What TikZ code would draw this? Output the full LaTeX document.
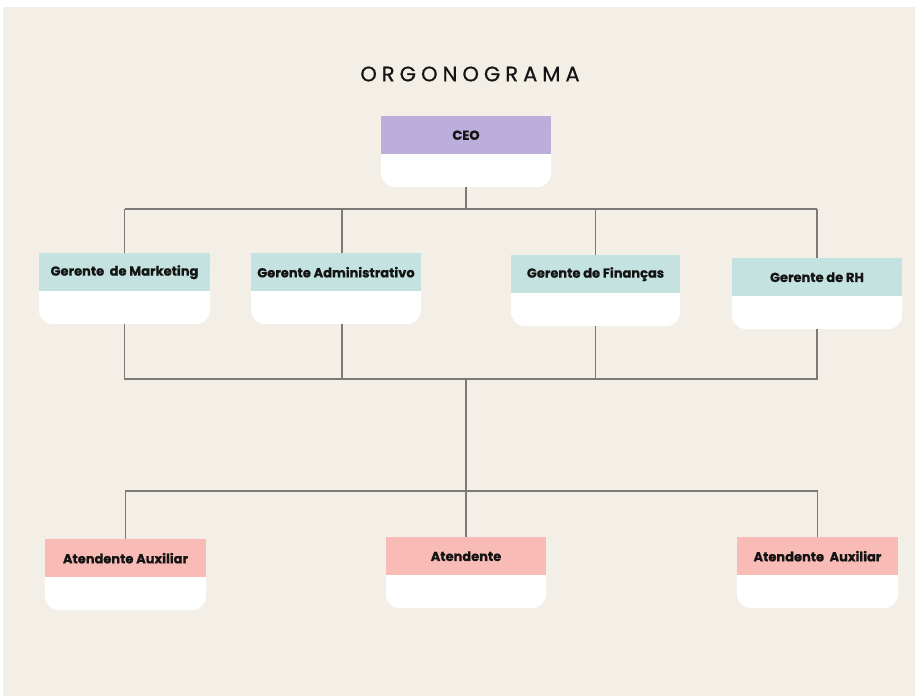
\documentclass[tikz,border=0pt]{standalone}
\usepackage{fontspec}
\setmainfont{Poppins}
\usetikzlibrary{positioning,calc}
\definecolor{paper}{HTML}{F3EFE6}
\definecolor{ceocol}{HTML}{BBAEDA}
\definecolor{mgrcol}{HTML}{C3E2E0}
\definecolor{attcol}{HTML}{F8BBB6}
\definecolor{wirecol}{HTML}{7C7976}
\definecolor{ink}{HTML}{141414}
\tikzset{
    card/.style={fill=white, rounded corners=14pt, minimum height=71pt, inner sep=0pt, anchor=north},
    cardhead/.style={fill=#1, minimum height=38pt, inner sep=0pt, anchor=north, text=ink,
                     font=\bfseries\addfontfeatures{FakeBold=0.8}\fontsize{13}{15}\selectfont},
    wire/.style={draw=wirecol, line width=1.3pt}
}

\begin{document}
\begin{tikzpicture}[x=1pt, y=-1pt]

    % Page
    \useasboundingbox (0,0) rectangle (915,696);
    \fill[white] (0,0) rectangle (915,696);
    \fill[paper] (3,7) rectangle (915,696);

    % Title
    \node[text=ink, font=\addfontfeatures{LetterSpace=24,FakeBold=0.6}\fontsize{21}{24}\selectfont] (title) at (470,74) {ORGONOGRAMA};

    % Nodes
    \node[card, minimum width=170pt] (ceo) at (466,116) {};
    \node[cardhead=ceocol, minimum width=170pt] (ceo-h) at (ceo.north) {CEO};

    \node[card, minimum width=171pt] (mkt) at (124.5,253) {};
    \node[cardhead=mgrcol, minimum width=171pt] (mkt-h) at (mkt.north) {Gerente~ de Marketing};
    \node[card, minimum width=170pt] (adm) at (336,253) {};
    \node[cardhead=mgrcol, minimum width=170pt] (adm-h) at (adm.north) {Gerente Administrativo};
    \node[card, minimum width=169pt] (fin) at (595.5,255) {};
    \node[cardhead=mgrcol, minimum width=169pt] (fin-h) at (fin.north) {Gerente de Finanças};
    \node[card, minimum width=170pt] (rh) at (817,258) {};
    \node[cardhead=mgrcol, minimum width=170pt] (rh-h) at (rh.north) {Gerente de RH};

    \node[card, minimum width=161pt] (aux1) at (125.5,539) {};
    \node[cardhead=attcol, minimum width=161pt] (aux1-h) at (aux1.north) {Atendente Auxiliar};
    \node[card, minimum width=160pt] (att) at (466,537) {};
    \node[cardhead=attcol, minimum width=160pt] (att-h) at (att.north) {Atendente};
    \node[card, minimum width=161pt] (aux2) at (817.5,537) {};
    \node[cardhead=attcol, minimum width=161pt] (aux2-h) at (aux2.north) {Atendente~ Auxiliar};

    % Buses
    \coordinate (topbus) at (466,209);
    \coordinate (midbus) at (466,379);
    \coordinate (lowbus) at (466,491);

    % Edges
    \draw[wire] (ceo.south) -- (topbus);
    \draw[wire] (mkt.north |- topbus) -- (rh.north |- topbus);
    \draw[wire] (mkt.north) -- (mkt.north |- topbus);
    \draw[wire] ([xshift=6pt]adm.north) -- ([xshift=6pt]adm.north |- topbus);
    \draw[wire] (fin.north) -- (fin.north |- topbus);
    \draw[wire] (rh.north) -- (rh.north |- topbus);

    \draw[wire] (mkt.south) -- (mkt.south |- midbus) -- (rh.south |- midbus) -- (rh.south);
    \draw[wire] ([xshift=6pt]adm.south) -- ([xshift=6pt]adm.south |- midbus);
    \draw[wire] (fin.south) -- (fin.south |- midbus);
    \draw[wire] (midbus) -- (lowbus);

    \draw[wire] (aux1.north) -- (aux1.north |- lowbus) -- (aux2.north |- lowbus) -- (aux2.north);
    \draw[wire] (att.north) -- (lowbus);

\end{tikzpicture}
\end{document}
